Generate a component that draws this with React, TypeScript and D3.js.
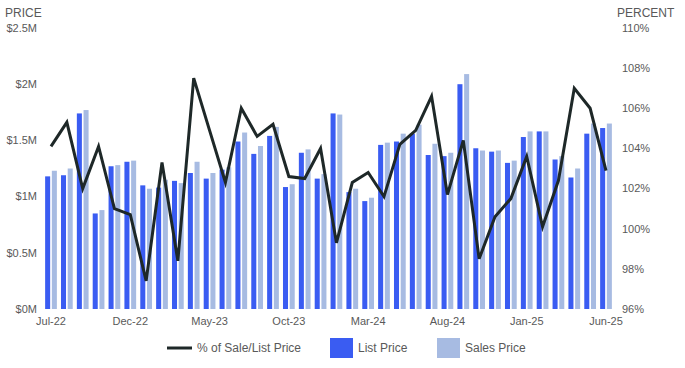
import * as d3 from 'd3'

const months = [
  'Jul-22', 'Aug-22', 'Sep-22', 'Oct-22', 'Nov-22', 'Dec-22',
  'Jan-23', 'Feb-23', 'Mar-23', 'Apr-23', 'May-23', 'Jun-23',
  'Jul-23', 'Aug-23', 'Sep-23', 'Oct-23', 'Nov-23', 'Dec-23',
  'Jan-24', 'Feb-24', 'Mar-24', 'Apr-24', 'May-24', 'Jun-24',
  'Jul-24', 'Aug-24', 'Sep-24', 'Oct-24', 'Nov-24', 'Dec-24',
  'Jan-25', 'Feb-25', 'Mar-25', 'Apr-25', 'May-25', 'Jun-25',
]

// millions of dollars
const listPrice = [
  1.18, 1.19, 1.74, 0.85, 1.27, 1.31, 1.10, 1.08, 1.14, 1.21, 1.16, 1.24,
  1.49, 1.38, 1.54, 1.085, 1.39, 1.16, 1.74, 1.04, 0.96, 1.46, 1.49, 1.56,
  1.37, 1.36, 2.00, 1.43, 1.40, 1.30, 1.53, 1.58, 1.33, 1.17, 1.56, 1.61,
]
const salesPrice = [
  1.23, 1.25, 1.77, 0.88, 1.28, 1.32, 1.07, 1.15, 1.12, 1.31, 1.21, 1.26,
  1.57, 1.45, 1.62, 1.11, 1.42, 1.20, 1.73, 1.07, 0.99, 1.48, 1.56, 1.64,
  1.47, 1.39, 2.09, 1.41, 1.41, 1.32, 1.58, 1.58, 1.36, 1.25, 1.65, 1.65,
]
// % of sale / list price
const salePct = [
  104.1, 105.3, 102.0, 104.1, 101.0, 100.7, 97.4, 103.3, 98.4, 107.5, 104.9, 102.3,
  106.0, 104.6, 105.2, 102.6, 102.5, 104.0, 99.3, 102.3, 102.8, 101.6, 104.2, 104.9,
  106.6, 101.7, 104.4, 98.5, 100.6, 101.5, 103.6, 100.1, 102.4, 107.0, 106.0, 102.9,
]

const priceTicks = [0, 0.5, 1, 1.5, 2, 2.5]
const pctTicks = [96, 98, 100, 102, 104, 106, 108, 110]
const xTickLabels = ['Jul-22', 'Dec-22', 'May-23', 'Oct-23', 'Mar-24', 'Aug-24', 'Jan-25', 'Jun-25']
const seriesKeys = ['list', 'sales']

const COLORS = {
  list: '#3a5cf2',
  sales: '#a7bbe2',
  line: '#1e2828',
  text: '#595959',
}

const W = 685
const H = 368
const FONT = '"Liberation Sans", Arial, sans-serif'

export default function App() {
  const top = 28
  const bottom = 309
  const step = 555 / 35

  const x = d3.scaleBand<string>()
    .domain(months)
    .range([51 - step / 2, 606 + step / 2])
    .paddingInner(0.26)
    .paddingOuter(0.13)

  const xi = d3.scaleBand<string>()
    .domain(seriesKeys)
    .range([0, x.bandwidth()])
    .paddingInner(0.25)

  const yL = d3.scaleLinear().domain([0, 2.5]).range([bottom, top])
  const yR = d3.scaleLinear().domain([96, 110]).range([bottom, top])

  const cx = (m: string) => x(m)! + x.bandwidth() / 2

  const line = d3.line<number>()
    .x((_, i) => cx(months[i]))
    .y(d => yR(d))

  const fmtPrice = (v: number) => `$${v}M`

  return (
    <svg width={W} height={H} style={{ position: 'absolute', left: 0, top: 0 }} fontFamily={FONT}>
      <rect width={W} height={H} fill="#fff" />

      {/* axis titles */}
      <text x={5} y={16.5} fontSize={12} fill={COLORS.text}>PRICE</text>
      <text x={617} y={16.5} fontSize={12} fill={COLORS.text}>PERCENT</text>

      {/* left ticks */}
      {priceTicks.map(t => (
        <text key={t} x={37} y={yL(t)} dy="0.35em" textAnchor="end" fontSize={11} fill={COLORS.text}>
          {fmtPrice(t)}
        </text>
      ))}

      {/* right ticks */}
      {pctTicks.map(t => (
        <text key={t} x={622} y={yR(t)} dy="0.35em" fontSize={11} fill={COLORS.text}>
          {t}%
        </text>
      ))}

      {/* bars */}
      {months.map((m, i) => (
        <g key={m} transform={`translate(${x(m)},0)`}>
          <rect x={xi('list')} y={yL(listPrice[i])} width={xi.bandwidth()}
            height={yL(0) - yL(listPrice[i])} fill={COLORS.list} />
          <rect x={xi('sales')} y={yL(salesPrice[i])} width={xi.bandwidth()}
            height={yL(0) - yL(salesPrice[i])} fill={COLORS.sales} />
        </g>
      ))}

      {/* % line */}
      <path d={line(salePct) ?? ''} fill="none" stroke={COLORS.line} strokeWidth={3}
        strokeLinejoin="miter" />

      {/* x labels */}
      {xTickLabels.map(m => (
        <text key={m} x={cx(m)} y={bottom + 12} dy="0.35em" textAnchor="middle" fontSize={11} fill={COLORS.text}>
          {m}
        </text>
      ))}

      {/* legend */}
      <g fontSize={12} fill={COLORS.text}>
        <line x1={167} x2={192} y1={348} y2={348} stroke={COLORS.line} strokeWidth={3} />
        <text x={197} y={348} dy="0.35em">% of Sale/List Price</text>
        <rect x={330} y={338} width={23} height={20} fill={COLORS.list} />
        <text x={358} y={348} dy="0.35em">List Price</text>
        <rect x={437} y={338} width={23} height={20} fill={COLORS.sales} />
        <text x={465} y={348} dy="0.35em">Sales Price</text>
      </g>
    </svg>
  )
}
